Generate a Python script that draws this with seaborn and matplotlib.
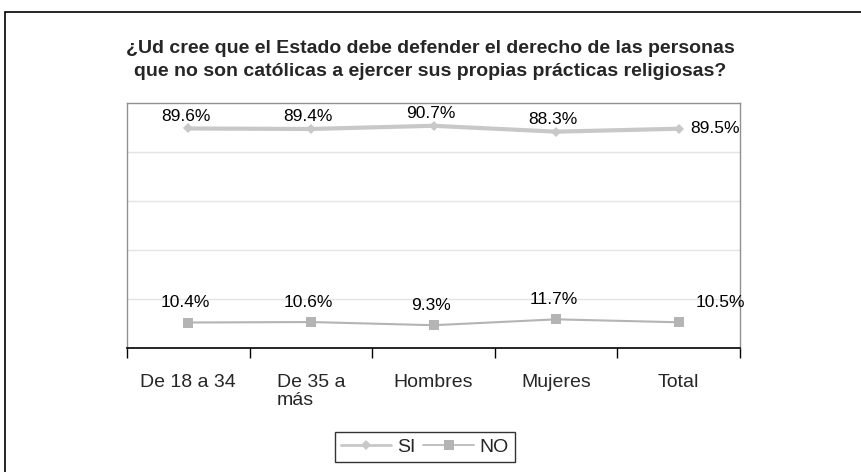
import matplotlib
matplotlib.use("Agg")
import matplotlib.pyplot as plt
import seaborn as sns
import pandas as pd
from matplotlib.patches import Rectangle
from matplotlib.lines import Line2D

categories = ["De 18 a 34", "De 35 a\nmás", "Hombres", "Mujeres", "Total"]
si_values = [89.6, 89.4, 90.7, 88.3, 89.5]
no_values = [10.4, 10.6, 9.3, 11.7, 10.5]
series_names = ["SI", "NO"]
title = ("¿Ud cree que el Estado debe defender el derecho de las personas\n"
         "que no son católicas a ejercer sus propias prácticas religiosas?")

sns.set_theme(style="white")
plt.rcParams["font.family"] = ["Liberation Sans", "DejaVu Sans"]

df = pd.DataFrame({
    "x": list(range(len(categories))) * 2,
    "val": si_values + no_values,
    "serie": [series_names[0]] * len(categories) + [series_names[1]] * len(categories),
})

fig = plt.figure(figsize=(8.61, 4.72), dpi=100)
W, H = 861, 472
ax = fig.add_axes([127 / W, 1 - 348 / H, (740 - 127) / W, (348 - 103) / H])

sns.lineplot(data=df, x="x", y="val", hue="serie", style="serie",
             markers={"SI": "D", "NO": "s"}, dashes=False,
             palette={"SI": "#c8c8c8", "NO": "#b4b4b4"},
             size="serie", sizes={"SI": 3.0, "NO": 1.5},
             markeredgewidth=0, ax=ax, legend=False)

for line, ms in zip(ax.get_lines(), [5.5, 6.5]):
    line.set_markersize(ms)

ax.set_xlim(-0.5, len(categories) - 0.5)
ax.set_ylim(0, 100)
ax.set_yticks([20, 40, 60, 80])
ax.set_yticklabels([])
ax.tick_params(axis="y", length=0)
ax.grid(axis="y", color="#e4e4e4", linewidth=1)
ax.set_xlabel("")
ax.set_ylabel("")

ax.set_xticks(list(range(len(categories))))
ax.set_xticklabels(categories, fontsize=14, multialignment="left", linespacing=1.05)
ax.tick_params(axis="x", length=0, pad=19)
ax.set_xticks([i - 0.5 for i in range(len(categories) + 1)], minor=True)
ax.tick_params(axis="x", which="minor", length=7, width=1, color="black", direction="out", bottom=True)

for s in ["top", "left", "right"]:
    ax.spines[s].set_color("#909090")
    ax.spines[s].set_linewidth(1)
ax.spines["bottom"].set_color("black")
ax.spines["bottom"].set_linewidth(1.2)

fs = 12.5
for i, v in enumerate(si_values):
    if i == len(categories) - 1:
        ax.annotate(f"{v:.1f}%", (i, v), xytext=(8, 0), textcoords="offset points",
                    ha="left", va="center", fontsize=fs, color="black")
    else:
        ax.annotate(f"{v:.1f}%", (i, v), xytext=(-2, 3.5), textcoords="offset points",
                    ha="center", va="bottom", fontsize=fs, color="black")
for i, v in enumerate(no_values):
    if i == len(categories) - 1:
        ax.annotate(f"{v:.1f}%", (i, v), xytext=(12, 9), textcoords="offset points",
                    ha="left", va="bottom", fontsize=fs, color="black")
    else:
        ax.annotate(f"{v:.1f}%", (i, v), xytext=(-2, 9), textcoords="offset points",
                    ha="center", va="bottom", fontsize=fs, color="black")

fig.text(430 / W, 1 - 60 / H, title, ha="center", va="center", fontsize=14,
         fontweight="bold", linespacing=1.4)

handles = [Line2D([], [], color="#c8c8c8", lw=2, marker="D", markersize=5.5, markeredgewidth=0),
           Line2D([], [], color="#b4b4b4", lw=1.2, marker="s", markersize=6.5, markeredgewidth=0)]
leg = fig.legend(handles, series_names, loc="center", bbox_to_anchor=(425 / W, 1 - 447 / H),
                 ncol=2, fontsize=14, frameon=True, fancybox=False, handlelength=2.6,
                 handletextpad=0.3, columnspacing=0.4, borderpad=0.3)
leg.get_frame().set_edgecolor("black")
leg.get_frame().set_linewidth(1)

fig.patches.append(Rectangle((5 / W, -0.1), 1.2, 1 - 12 / H + 0.1, transform=fig.transFigure,
                             fill=False, edgecolor="black", linewidth=1.2))

fig.savefig("out.png", dpi=100)
